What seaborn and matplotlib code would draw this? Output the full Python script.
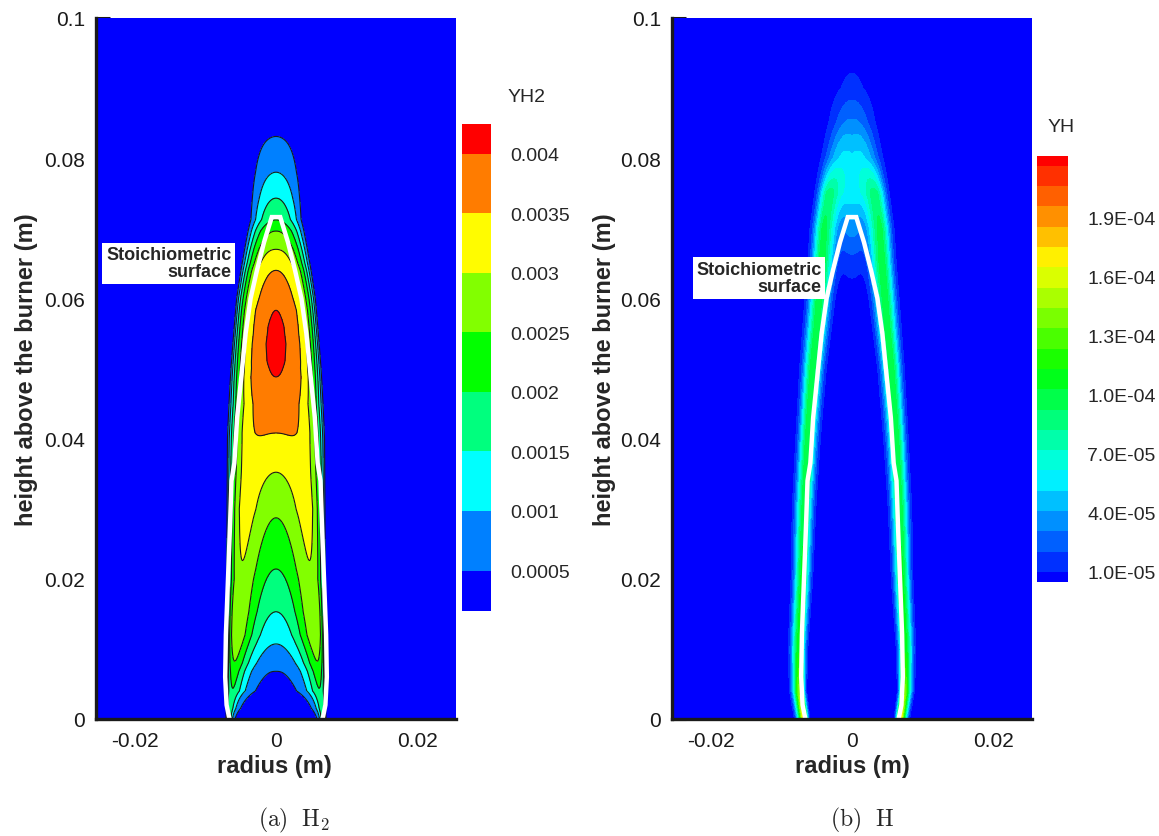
# flame contours: YH2 and YH with the stoichiometric surface
import numpy as np
import matplotlib
matplotlib.use("Agg")
import matplotlib.pyplot as plt
import seaborn as sns
from matplotlib.colors import ListedColormap, BoundaryNorm
from matplotlib.cm import ScalarMappable
from matplotlib.ticker import MultipleLocator, FuncFormatter

sns.set_theme(style="ticks")
plt.rcParams["font.family"] = ["Liberation Sans", "DejaVu Sans"]
plt.rcParams["mathtext.fontset"] = "cm"

# ---- values ----
# stoichiometric surface, right half (mirrored for the left half)
z_stoich = [0.0, 0.002, 0.006, 0.012, 0.020, 0.028, 0.034, 0.0365, 0.043, 0.050, 0.055, 0.060, 0.064, 0.068, 0.0716, 0.0716]
r_stoich = [0.0066, 0.0070, 0.0072, 0.0071, 0.0068, 0.0065, 0.0063, 0.0059, 0.0055, 0.0048, 0.0043, 0.0036, 0.0027, 0.0017, 0.0006, 0.0]

# (a) YH2 along the axis (where the contour levels cross r = 0)
z_axis_h2 = [0.0, 0.0068, 0.0107, 0.0153, 0.0214, 0.0287, 0.0352, 0.0408, 0.0488, 0.0510, 0.0535,
             0.0560, 0.0583, 0.0640, 0.0670, 0.0696, 0.0712, 0.0743, 0.0780, 0.0831, 0.0880]
yh2_axis = [0.0001, 0.0005, 0.0010, 0.0015, 0.0020, 0.0025, 0.0030, 0.0035, 0.0040, 0.00407, 0.0041,
            0.00407, 0.0040, 0.0035, 0.0030, 0.0025, 0.0020, 0.0015, 0.0010, 0.0005, 0.0]
# (a) radial shape of YH2: outer radius, off-axis rise and its power, edge sharpness
z_shape = [0.0, 0.0015, 0.004, 0.008, 0.012, 0.02, 0.03, 0.04, 0.045, 0.05, 0.055, 0.06, 0.065, 0.0713, 0.08, 0.09]
r_outer = [0.0071, 0.0071, 0.0071, 0.0071, 0.0071, 0.0071, 0.0071, 0.0071, 0.0069, 0.0066, 0.0062, 0.0058, 0.0051, 0.0041, 0.0041, 0.0041]
rise = [0.0067, 0.0050, 0.0037, 0.0038, 0.0037, 0.0033, 0.0030, 0.0008, -0.0008, -0.0018, -0.0021, -0.0020, -0.0012, 0.0, 0.0, 0.0]
rise_pow = [14, 8, 3.5, 2.5, 2, 2, 2, 2, 2, 2, 2, 2, 2, 2, 2, 2]
edge = [20, 14, 10, 9, 8, 5, 4, 4, 5, 7, 8, 7, 4, 2, 2, 2]

# (b) YH: sheet along the flame (peak radius, peak, outer/inner width) and a cap over the tip
z_h = [0.0, 0.004, 0.01, 0.02, 0.03, 0.04, 0.05, 0.056, 0.06, 0.065, 0.07, 0.075, 0.08, 0.085, 0.09, 0.095]
rp_h = [0.0068, 0.0074, 0.0075, 0.0071, 0.0068, 0.0063, 0.0056, 0.0050, 0.0047, 0.0043, 0.0040, 0.0034, 0.0025, 0.0013, 0.0, 0.0]
a_h = [1.7e-4, 1.4e-4, 1.1e-4, 1.05e-4, 1.0e-4, 1.0e-4, 1.0e-4, 1.0e-4, 1.0e-4, 1.0e-4, 0.95e-4, 0.8e-4, 0.2e-4, 0.05e-4, 0.0, 0.0]
wo_h = [0.0008, 0.0009, 0.0010, 0.0010, 0.0011, 0.0011, 0.0012, 0.0013, 0.0013, 0.0013, 0.0013, 0.0013, 0.0016, 0.0018, 0.0024, 0.0024]
wi_h = [0.0005, 0.0006, 0.0008, 0.0010, 0.0011, 0.0012, 0.0013, 0.0014, 0.0015, 0.0016, 0.0017, 0.0018, 0.0018, 0.0018, 0.0024, 0.0024]
cap_h = [0, 0, 0, 0, 0, 0, 0, 0, 0.3e-5, 1.5e-5, 3.5e-5, 5.5e-5, 5.0e-5, 2.9e-5, 1.3e-5, 0.6e-5]
capw_h = [0.0022, 0.0022, 0.0022, 0.0022, 0.0022, 0.0022, 0.0022, 0.0022, 0.0022, 0.0022, 0.0022, 0.0024,
          0.0029, 0.0030, 0.0030, 0.0028]

h2_levels = [0.0005, 0.001, 0.0015, 0.002, 0.0025, 0.003, 0.0035, 0.004]
h2_labels = ["0.0005", "0.001", "0.0015", "0.002", "0.0025", "0.003", "0.0035", "0.004"]
h_levels = [1.0e-5 + 1.03e-5 * k for k in range(21)]
h_ticks = [1e-5, 4e-5, 7e-5, 1e-4, 1.3e-4, 1.6e-4, 1.9e-4]
h_labels = ["1.0E-05", "4.0E-05", "7.0E-05", "1.0E-04", "1.3E-04", "1.6E-04", "1.9E-04"]

rainbow = ["#0000ff", "#00ffff", "#00ff00", "#ffff00", "#ff0000"]
h2_colors = sns.blend_palette(rainbow, len(h2_levels) + 1)
h_colors = sns.blend_palette(rainbow, len(h_levels) + 1)

# ---- fields ----
r = np.linspace(-0.0255, 0.0255, 1021)
z = np.linspace(0.0, 0.1, 1001)
RR, ZZ = np.meshgrid(r, z)

yc = np.interp(z, z_axis_h2, yh2_axis)[:, None]
ro = np.interp(z, z_shape, r_outer)[:, None]
aa = np.interp(z, z_shape, rise)[:, None]
mm = np.interp(z, z_shape, rise_pow)[:, None]
nn = np.interp(z, z_shape, edge)[:, None]
s = np.clip(np.abs(RR) / ro, 0, 1)
yh2 = (yc + aa * s**mm) * (1 - s**nn)
yh2 = np.clip(np.where(np.abs(RR) < ro, yh2, 0.0), 0.0, None)

rp = np.interp(z, z_h, rp_h)[:, None]
amp = np.interp(z, z_h, a_h)[:, None]
wo = np.interp(z, z_h, wo_h)[:, None]
wi = np.interp(z, z_h, wi_h)[:, None]
cap = np.interp(z, z_h, cap_h)[:, None]
capw = np.interp(z, z_h, capw_h)[:, None]
d = np.abs(RR) - rp
yh = amp * np.exp(-(d / np.where(d > 0, wo, wi))**2) + cap * np.exp(-(RR / capw)**2)

st_r = np.concatenate([-np.array(r_stoich), np.array(r_stoich)[::-1]])
st_z = np.concatenate([np.array(z_stoich), np.array(z_stoich)[::-1]])

# ---- figure ----
W, H = 1159, 837
fig = plt.figure(figsize=(W / 100, H / 100), dpi=100)


def px(x0, y0, x1, y1):
    return [x0 / W, 1 - y1 / H, (x1 - x0) / W, (y1 - y0) / H]


ax_a = fig.add_axes(px(96, 19, 456, 720))
ax_b = fig.add_axes(px(672, 19, 1032, 720))

ax_a.contourf(RR, ZZ, yh2, levels=[-1] + h2_levels + [1], colors=h2_colors)
ax_a.contour(RR, ZZ, yh2, levels=h2_levels, colors="k", linewidths=0.8)
ax_b.contourf(RR, ZZ, yh, levels=[-1] + h_levels + [1], colors=h_colors)

for ax in (ax_a, ax_b):
    ax.plot(st_r, st_z, color="white", lw=3.2, solid_joinstyle="miter")
    ax.set_xlim(-0.0255, 0.0255)
    ax.set_ylim(0, 0.1)
    ax.set_facecolor("#0000ff")
    ax.xaxis.set_major_locator(MultipleLocator(0.02))
    ax.xaxis.set_minor_locator(MultipleLocator(0.005))
    ax.yaxis.set_major_locator(MultipleLocator(0.02))
    ax.yaxis.set_minor_locator(MultipleLocator(0.005))
    fmt = FuncFormatter(lambda v, p: "%g" % round(v, 4))
    ax.xaxis.set_major_formatter(fmt)
    ax.yaxis.set_major_formatter(fmt)
    ax.tick_params(which="major", direction="in", length=10, width=2.2, labelsize=15,
                   colors="k", top=False, right=False)
    ax.tick_params(which="minor", direction="in", length=5, width=1.2, top=False, right=False)
    ax.tick_params(axis="x", which="major", pad=9)
    ax.tick_params(axis="y", which="major", pad=8)
    for side in ("top", "right"):
        ax.spines[side].set_visible(False)
    for side in ("left", "bottom"):
        ax.spines[side].set_linewidth(2.4)
        ax.spines[side].set_color("k")
        ax.spines[side].set_zorder(5)
    ax.grid(False)

box = dict(boxstyle="square,pad=0.2", fc="white", ec="none")
ax_a.text(-0.0152, 0.065, "Stoichiometric\nsurface", ha="center", va="center", multialignment="right",
          fontsize=13, fontweight="bold", linespacing=1.0, bbox=box, zorder=6)
ax_b.text(-0.0132, 0.0629, "Stoichiometric\nsurface", ha="center", va="center", multialignment="right",
          fontsize=13, fontweight="bold", linespacing=1.0, bbox=box, zorder=6)

# colour bars
cax_a = fig.add_axes(px(462, 125, 491, 612))
bounds_a = [0.00016] + h2_levels + [0.00425]
cb_a = fig.colorbar(ScalarMappable(norm=BoundaryNorm(bounds_a, len(h2_colors)), cmap=ListedColormap(h2_colors)),
                    cax=cax_a, spacing="proportional", ticks=h2_levels)
cb_a.ax.set_yticklabels(h2_labels)

cax_b = fig.add_axes(px(1037, 157, 1068, 583))
bounds_b = [0.49e-5] + h_levels + [2.21e-4]
cb_b = fig.colorbar(ScalarMappable(norm=BoundaryNorm(bounds_b, len(h_colors)), cmap=ListedColormap(h_colors)),
                    cax=cax_b, spacing="proportional", ticks=h_ticks)
cb_b.ax.set_yticklabels(h_labels)

for cb in (cb_a, cb_b):
    cb.outline.set_visible(False)
    cb.ax.tick_params(length=0, labelsize=14, pad=14)
    cb.ax.minorticks_off()

fig.text(527 / W, 1 - 97 / H, "YH2", ha="center", va="center", fontsize=14)
fig.text(1061 / W, 1 - 128 / H, "YH", ha="center", va="center", fontsize=14)

# axis titles
for xc in (274, 852):
    fig.text(xc / W, 1 - 767 / H, "radius (m)", ha="center", va="center", fontsize=17, fontweight="bold")
for xc in (27, 605):
    fig.text(xc / W, 1 - 370 / H, "height above the burner (m)", ha="center", va="center",
             rotation=90, fontsize=17, fontweight="bold")

fig.text(294 / W, 1 - 820 / H, r"$\mathrm{(a)}\ \ \mathrm{H}_2$", ha="center", va="center", fontsize=17)
fig.text(862 / W, 1 - 820 / H, r"$\mathrm{(b)}\ \ \mathrm{H}$", ha="center", va="center", fontsize=17)

fig.savefig("out.png", dpi=100)
